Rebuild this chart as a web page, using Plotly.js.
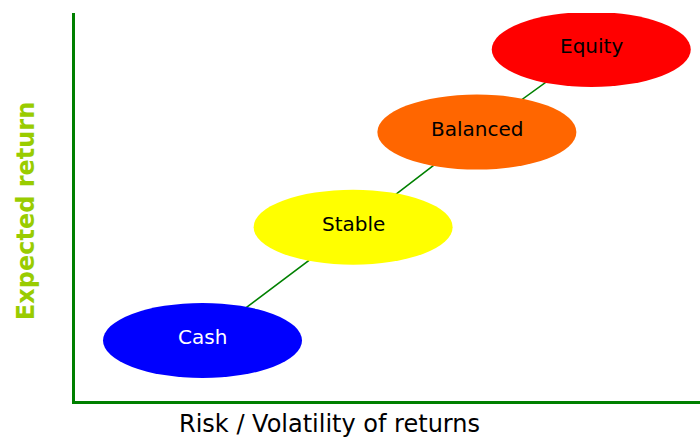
<!DOCTYPE html>
<html>
<head>
<meta charset="utf-8">
<script src="https://cdn.plot.ly/plotly-3.0.1.min.js"></script>
<style>html,body{margin:0;padding:0;background:#fff;}#chart{width:700px;height:438px;}</style>
</head>
<body>
<div id="chart"></div>
<script>
// Data
const categories = ["Cash", "Stable", "Balanced", "Equity"];
const risk = [20.4, 44.5, 64.3, 82.6];
const expectedReturn = [15.6, 44.8, 69.3, 90.6];
const fillColors = ["#0000FF", "#FFFF00", "#FF6600", "#FF0000"];
const textColors = ["#FFFFFF", "#000000", "#000000", "#000000"];
const xTitle = "Risk / Volatility of returns";
const yTitle = "Expected return";

const FONT = "DejaVu Sans, Verdana, sans-serif";

const trace = {
  x: risk,
  y: expectedReturn,
  mode: "lines",
  type: "scatter",
  line: {color: "#008000", width: 1.6},
  hoverinfo: "skip",
  showlegend: false
};

const shapes = categories.map((c, i) => ({
  type: "circle",
  layer: "above",
  xref: "x", yref: "y",
  xsizemode: "pixel", ysizemode: "pixel",
  xanchor: risk[i], yanchor: expectedReturn[i],
  x0: -99.5, x1: 99.5, y0: -37.5, y1: 37.5,
  fillcolor: fillColors[i],
  line: {width: 0}
}));

const annotations = categories.map((c, i) => ({
  x: risk[i], y: expectedReturn[i],
  xref: "x", yref: "y",
  text: c,
  showarrow: false,
  yshift: 3,
  font: {family: FONT, size: 20, color: textColors[i]}
}));

annotations.push({
  xref: "paper", yref: "paper",
  x: 0.4072, y: -0.0593,
  xanchor: "center", yanchor: "middle",
  text: xTitle, showarrow: false,
  font: {family: FONT, size: 24, color: "#000000"}
});
annotations.push({
  xref: "paper", yref: "paper",
  x: -0.0792, y: 0.488,
  xanchor: "center", yanchor: "middle",
  textangle: -90,
  text: "<b>" + yTitle + "</b>", showarrow: false,
  font: {family: FONT, size: 24, color: "#99CC00"}
});

const layout = {
  width: 700, height: 438,
  margin: {l: 75, r: 0, t: 13, b: 37},
  paper_bgcolor: "#ffffff",
  plot_bgcolor: "#ffffff",
  showlegend: false,
  xaxis: {
    range: [0, 100],
    showline: true, linecolor: "#008000", linewidth: 3,
    showgrid: false, zeroline: false, showticklabels: false, ticks: "",
    fixedrange: true
  },
  yaxis: {
    range: [0, 100],
    showline: true, linecolor: "#008000", linewidth: 3,
    showgrid: false, zeroline: false, showticklabels: false, ticks: "",
    fixedrange: true
  },
  shapes: shapes,
  annotations: annotations
};

Plotly.newPlot("chart", [trace], layout, {displayModeBar: false, staticPlot: true});
</script>
</body>
</html>
